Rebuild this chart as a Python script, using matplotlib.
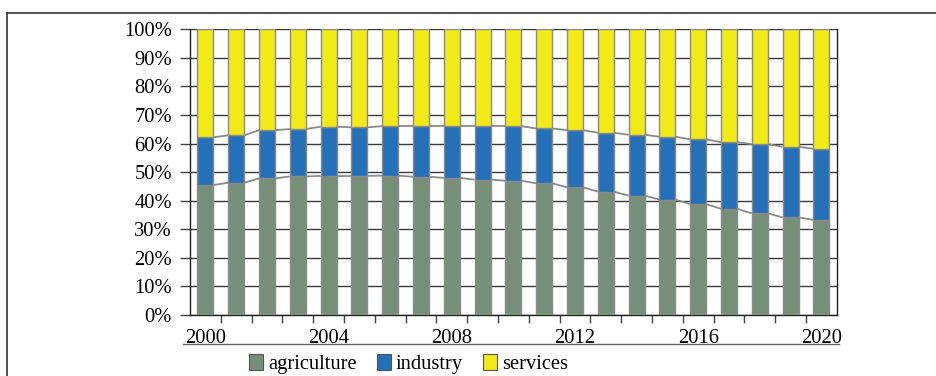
import numpy as np
import matplotlib.pyplot as plt
from matplotlib.lines import Line2D
from matplotlib.patches import Patch
from matplotlib.ticker import FixedLocator, PercentFormatter

plt.rcParams['font.family'] = ['Liberation Serif', 'DejaVu Serif']

# shares of employment, %
years = list(range(2000, 2021))
agriculture = [45.5, 46.3, 47.8, 48.5, 48.7, 48.7, 48.8, 48.4, 48.0, 47.4,
               47.0, 46.1, 44.7, 43.2, 41.8, 40.4, 38.8, 37.2, 35.6, 34.2, 33.3]
industry = [16.7, 16.6, 16.9, 16.6, 17.2, 17.0, 17.3, 17.7, 18.1, 18.7,
            19.1, 19.2, 20.0, 20.6, 21.3, 22.0, 22.7, 23.3, 24.2, 24.7, 24.9]
services = [37.8, 37.1, 35.3, 34.9, 34.1, 34.3, 33.9, 33.9, 33.9, 33.9,
            33.9, 34.7, 35.3, 36.2, 36.9, 37.6, 38.5, 39.5, 40.2, 41.1, 41.8]
series_names = ['agriculture', 'industry', 'services']
label_years = [2000, 2004, 2008, 2012, 2016, 2020]

colors = ['#768f79', '#2571b9', '#f2ea17']
edge = '#8a8a8a'
FS = 14.8

fig = plt.figure(figsize=(9.37, 3.76), dpi=100)
ax = fig.add_axes([0.2028, 0.1622, 0.6902, 0.7598])

x = np.arange(len(years))
w = 0.52
bottom = np.zeros(len(years))
for vals, c in zip([agriculture, industry, services], colors):
    vals = np.array(vals)
    ax.bar(x, vals, w, bottom=bottom, color=c, edgecolor=edge,
           linewidth=1.0, zorder=3)
    bottom = bottom + vals

# series lines joining the bar tops
for level in [np.array(agriculture), np.array(agriculture) + np.array(industry)]:
    for i in range(len(years) - 1):
        ax.plot([x[i] + w / 2, x[i + 1] - w / 2], [level[i], level[i + 1]],
                color=edge, lw=1.3, zorder=4, solid_capstyle='butt')

ax.set_xlim(-0.5, len(years) - 0.5)
ax.set_ylim(0, 100)
ax.set_yticks(np.arange(0, 101, 10))
ax.yaxis.set_major_formatter(PercentFormatter(decimals=0))
ax.grid(axis='y', color='#3a3a3a', lw=1.0, zorder=1)

ax.set_xticks([years.index(y) for y in label_years])
ax.set_xticklabels([str(y) for y in label_years])
ax.xaxis.set_minor_locator(FixedLocator(np.arange(0.5, len(years) - 1, 1)))
ax.tick_params(axis='x', which='major', length=0, pad=10, labelsize=FS)
ax.tick_params(axis='x', which='minor', length=6, width=1, color='#444')
ax.tick_params(axis='y', length=7, width=1, color='#444', labelsize=FS, pad=6)

for s in ['left', 'right', 'bottom']:
    ax.spines[s].set_color('#222')
    ax.spines[s].set_linewidth(1.0)
ax.spines['top'].set_visible(False)

# line under the year labels
ax.add_artist(Line2D([-0.011, 1.004], [-0.1, -0.1], transform=ax.transAxes,
                     color='#666', lw=1.0, clip_on=False))

# outer frame
fig.add_artist(Line2D([0.008, 0.008], [0.0, 0.965], color='#333', lw=1.2))
fig.add_artist(Line2D([0.008, 1.0], [0.965, 0.965], color='#333', lw=1.2))

handles = [Patch(facecolor=c, edgecolor='#555', lw=0.8) for c in colors]
fig.legend(handles, series_names, loc='center', bbox_to_anchor=(0.436, 0.032),
           ncol=3, frameon=False, fontsize=FS, handlelength=0.7,
           handleheight=0.85, handletextpad=0.25, columnspacing=0.95,
           borderpad=0.1)

fig.savefig('out.png', dpi=100)
